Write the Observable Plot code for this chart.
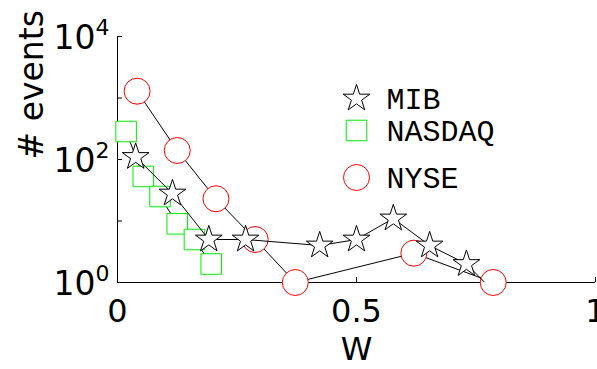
<!DOCTYPE html>
<html><head><meta charset="utf-8">
<script src="https://cdn.jsdelivr.net/npm/d3@7"></script>
<script src="https://cdn.jsdelivr.net/npm/@observablehq/plot@0.6"></script>
<style>html,body{margin:0;padding:0;overflow:hidden;background:#fff}</style>
</head><body><div id="chart"></div>
<script>
// ---- data ----
const seriesNames = ["MIB", "NASDAQ", "NYSE"];
const mibW = [0.038, 0.115, 0.191, 0.268, 0.423, 0.5, 0.577, 0.653, 0.730, 0.807];
const mibN = [110, 28, 5, 5, 4, 5, 11, 4, 2, 0.5];
const nasdaqW = [0.018, 0.054, 0.089, 0.125, 0.161, 0.196];
const nasdaqN = [285, 53, 25, 9, 5, 2];
const nyseW = [0.041, 0.125, 0.206, 0.288, 0.372, 0.620, 0.786];
const nyseN = [1290, 140, 23, 5, 1, 3, 1];
const xTicks = [0, 0.5, 1];
const xTickLabels = ["0", "0.5", "1"];
const yTicks = [1, 10, 100, 1000, 10000];
const yLabelTicks = [1, 100, 10000];
const yTickExps = ["0", "2", "4"];

const mib = mibW.map((w, i) => ({w, n: mibN[i]}));
const nasdaq = nasdaqW.map((w, i) => ({w, n: nasdaqN[i]}));
const nyse = nyseW.map((w, i) => ({w, n: nyseN[i]}));
const inFrame = (d) => d.n >= 1;

const SANS = "DejaVu Sans";
const MONO = "Liberation Mono";
const RED = "#ff0000", GREEN = "#00ee00";

const legendSpec = [
  {name: seriesNames[0], symbol: "star", r: 8.4, stroke: "black", dy: 62},
  {name: seriesNames[1], symbol: "square", r: 11.6, stroke: GREEN, dy: 94},
  {name: seriesNames[2], symbol: "circle", r: 13, stroke: RED, dy: 141}
];

const plot = Plot.plot({
  width: 597,
  height: 369,
  marginLeft: 117,
  marginRight: 2,
  marginTop: 36,
  marginBottom: 87,
  style: {background: "white", overflow: "hidden"},
  x: {domain: [0, 1], axis: null},
  y: {type: "log", domain: [1, 10000], axis: null},
  marks: [
    // axes
    Plot.ruleY([1], {stroke: "black", strokeWidth: 1}),
    Plot.ruleX([0], {stroke: "black", strokeWidth: 1}),
    Plot.ruleX(xTicks, {x: d => d, y1: 1, y2: 1, insetTop: -5, stroke: "black"}),
    Plot.ruleY(yTicks, {y: d => d, x1: 0, x2: 0, insetRight: -5, stroke: "black"}),
    // NYSE
    Plot.line(nyse, {x: "w", y: "n", stroke: "black", strokeWidth: 1, clip: true}),
    Plot.dot(nyse.filter(inFrame), {x: "w", y: "n", symbol: "circle", r: 13, stroke: RED, fill: "white", strokeWidth: 1}),
    // NASDAQ
    Plot.line(nasdaq, {x: "w", y: "n", stroke: "black", strokeWidth: 1, clip: true}),
    Plot.dot(nasdaq.filter(inFrame), {x: "w", y: "n", symbol: "square", r: 11.6, stroke: GREEN, fill: "white", strokeWidth: 1}),
    // MIB
    Plot.line(mib, {x: "w", y: "n", stroke: "black", strokeWidth: 1, clip: true}),
    Plot.dot(mib.filter(inFrame), {x: "w", y: "n", symbol: "star", r: 8.4, stroke: "black", fill: "white", strokeWidth: 1}),
    // tick labels
    Plot.text(xTicks, {x: d => d, frameAnchor: "bottom", lineAnchor: "middle", dy: 29.5, text: (d, i) => xTickLabels[i], fontSize: 32, fontFamily: SANS, fill: "black"}),
    Plot.text(yLabelTicks, {y: d => d, frameAnchor: "left", lineAnchor: "middle", dx: -22, dy: 1.5, textAnchor: "end", text: () => "10", fontSize: 33, fontFamily: SANS, fill: "black"}),
    Plot.text(yLabelTicks, {y: d => d, frameAnchor: "left", lineAnchor: "middle", dx: -22, dy: -9, textAnchor: "start", text: (d, i) => yTickExps[i], fontSize: 22, fontFamily: SANS, fill: "black"}),
    // axis labels
    Plot.text(["W"], {frameAnchor: "bottom", lineAnchor: "middle", dy: 67.5, text: d => d, fontSize: 32, fontFamily: SANS, fill: "black"}),
    Plot.text(["# events"], {frameAnchor: "left", lineAnchor: "middle", dx: -85.5, rotate: -90, text: d => d, fontSize: 33, fontFamily: SANS, fill: "black"}),
    // legend
    ...legendSpec.map(s => Plot.dot([s.name], {frameAnchor: "top-left", dx: 239, dy: s.dy, symbol: s.symbol, r: s.r, stroke: s.stroke, fill: "white", strokeWidth: 1})),
    ...legendSpec.map(s => Plot.text([s.name], {frameAnchor: "top-left", lineAnchor: "middle", dx: 269, dy: s.dy + 0.5, textAnchor: "start", text: d => d, fontSize: 30, fontFamily: MONO, fill: "black"}))
  ]
});
document.getElementById("chart").appendChild(plot);
</script>
</body></html>
